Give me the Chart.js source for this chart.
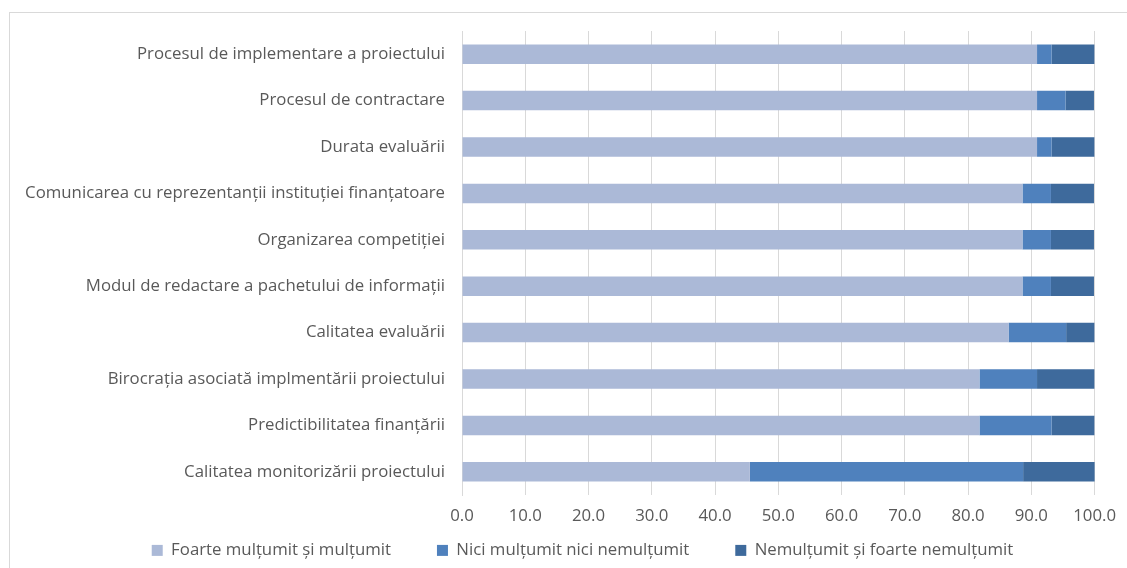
<!DOCTYPE html>
<html>
<head>
<meta charset="utf-8">
<script src="https://cdn.jsdelivr.net/npm/chart.js@4.4.1/dist/chart.umd.min.js"></script>
<style>
html,body{margin:0;padding:0;background:#fff;}
#wrap{position:relative;width:1127px;height:568px;overflow:hidden;}
#frame{position:absolute;left:9px;top:12px;width:1200px;height:700px;border:1px solid #d9d9d9;box-sizing:border-box;}
canvas{position:absolute;left:0;top:0;}
</style>
</head>
<body>
<div id="wrap"><div id="frame"></div><canvas id="c" width="1127" height="568"></canvas></div>
<script>
const categories = [
  "Procesul de implementare a proiectului",
  "Procesul de contractare",
  "Durata evaluării",
  "Comunicarea cu reprezentanții instituției finanțatoare",
  "Organizarea competiției",
  "Modul de redactare a pachetului de informații",
  "Calitatea evaluării",
  "Birocrația asociată implmentării proiectului",
  "Predictibilitatea finanțării",
  "Calitatea monitorizării proiectului"
];
const seriesNames = ["Foarte mulțumit și mulțumit", "Nici mulțumit nici nemulțumit", "Nemulțumit și foarte nemulțumit"];
const satisfied = [90.9, 90.9, 90.9, 88.6, 88.6, 88.6, 86.4, 81.8, 81.8, 45.5];
const neutral   = [2.3, 4.5, 2.3, 4.5, 4.5, 4.5, 9.1, 9.1, 11.4, 43.2];
const dissatisfied = [6.8, 4.5, 6.8, 6.8, 6.8, 6.8, 4.5, 9.1, 6.8, 11.4];
const xTicks = [0, 10, 20, 30, 40, 50, 60, 70, 80, 90, 100];

const colors = ["#abb9d7", "#4f81bd", "#3e6a9c"];
const font = "'Open Sans', 'Noto Sans', sans-serif";
const fs = 16.8;

const legendPlace = {
  id: 'legendPlace',
  beforeInit(chart) {
    const lg = chart.legend;
    if (!lg) return;
    const orig = lg.fit;
    lg.fit = function () { orig.call(this); this.height = 33; };
  },
  afterLayout(chart) {
    const lg = chart.legend;
    if (!lg) return;
    lg.top = 496;
    lg.left += 34;
    lg.right += 34;
  }
};

new Chart(document.getElementById('c'), {
  type: 'bar',
  data: {
    labels: categories,
    datasets: [
      {label: seriesNames[0], data: satisfied, backgroundColor: colors[0]},
      {label: seriesNames[1], data: neutral, backgroundColor: colors[1]},
      {label: seriesNames[2], data: dissatisfied, backgroundColor: colors[2]}
    ]
  },
  plugins: [legendPlace],
  options: {
    indexAxis: 'y',
    responsive: false,
    animation: false,
    devicePixelRatio: 1,
    datasets: {bar: {categoryPercentage: 1, barPercentage: 0.42, borderWidth: 0}},
    layout: {padding: {top: 31, right: 30, left: 0, bottom: 0}},
    scales: {
      x: {
        stacked: true,
        min: 0, max: 100,
        afterBuildTicks: s => { s.ticks = xTicks.map(v => ({value: v})); },
        ticks: {
          color: '#595959',
          font: {family: font, size: fs},
          padding: 11,
          maxRotation: 0,
          autoSkip: false,
          callback: v => Number(v).toFixed(1)
        },
        grid: {color: '#d9d9d9', lineWidth: 1, drawTicks: false},
        border: {display: false},
        afterFit: s => { s.height = 40; }
      },
      y: {
        stacked: true,
        ticks: {color: '#595959', font: {family: font, size: fs}, padding: 17},
        grid: {display: false, drawTicks: false},
        border: {display: true, color: '#d9d9d9'},
        afterFit: s => { s.width = 462; }
      }
    },
    plugins: {
      legend: {
        position: 'bottom',
        labels: {
          color: '#595959',
          font: {family: font, size: fs},
          boxWidth: 11, boxHeight: 11,
          padding: 46
        }
      },
      tooltip: {enabled: false}
    }
  }
});
</script>
</body>
</html>
